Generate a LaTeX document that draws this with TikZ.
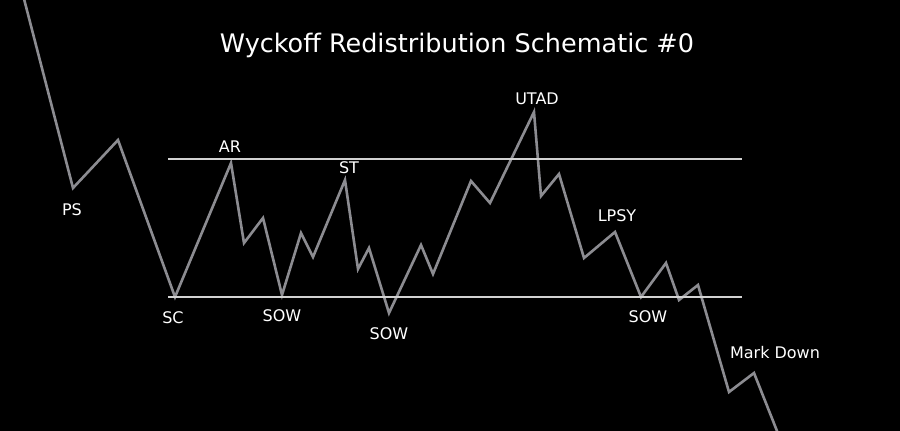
\documentclass[tikz,border=0pt]{standalone}
\usepackage{fontspec}
\setmainfont{DejaVu Sans}
\definecolor{pricegray}{HTML}{8C8C91}
\definecolor{rangegray}{HTML}{D2D2D2}
\tikzset{
    price/.style={
        draw=pricegray,
        line width=2.6pt,
        miter limit=4
    },
    rangeline/.style={draw=rangegray, line width=1.6pt},
    lbl/.style={
        text=white,
        font=\fontsize{16}{18}\selectfont,
        anchor=base,
        inner sep=0pt
    }
}
\begin{document}
\begin{tikzpicture}[x=1pt,y=-1pt]
        \useasboundingbox (0,0) rectangle (900,431);
        \fill[black] (0,0) rectangle (900,431);
        \clip (0,0) rectangle (900,431);
        % swing points of the price path
        \foreach \px/\py [count=\i] in {
            23/-5,73/188,118/140,175/297,231/163,244/243,263/218,282/295,
            301/233,313/257,345/180,358/269,369/248,389/313,421/245,
            433/274,471/181,490/203,534/112,541/196,559/174,584/258,
            615/232,641/297,666/263,679/300,698/285,729/392,754/373,
            779/436}
            \coordinate (p\i) at (\px,\py);
        % draw price path
        \draw[price] (p1) \foreach \i in {2,...,30} { -- (p\i) };
        % draw trading range
        \draw[rangeline] (168,159) -- (742,159);
        \draw[rangeline] (168,297) -- (742,297);
        % title
        \node[lbl,font=\fontsize{25.5}{30}\selectfont] (title) at (457,52)
            {Wyckoff Redistribution Schematic \#0};
        % event labels
        \node[lbl] (ps) at (72,215) {PS};
        \node[lbl] (ar) at (230,152) {AR};
        \node[lbl] (sc) at (173,323) {SC};
        \node[lbl] (sowa) at (282,321) {SOW};
        \node[lbl] (st) at (349,173) {ST};
        \node[lbl] (sowb) at (389,339) {SOW};
        \node[lbl] (utad) at (537,104) {UTAD};
        \node[lbl] (lpsy) at (617,221) {LPSY};
        \node[lbl] (sowc) at (648,322) {SOW};
        \node[lbl] (markdown) at (775,358) {Mark Down};
    \end{tikzpicture}
\end{document}
